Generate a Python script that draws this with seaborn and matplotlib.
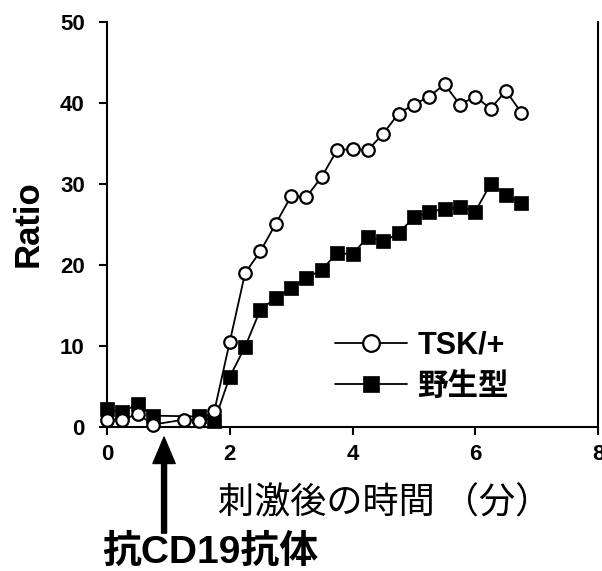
import pandas as pd
import seaborn as sns
import matplotlib.pyplot as plt

# データ
tsk_time = [0, 0.25, 0.5, 0.75, 1.25, 1.5, 1.75, 2.0, 2.25, 2.5, 2.75, 3.0, 3.25, 3.5,
            3.75, 4.0, 4.25, 4.5, 4.75, 5.0, 5.25, 5.5, 5.75, 6.0, 6.25, 6.5, 6.75]
tsk_ratio = [0.9, 0.9, 1.6, 0.3, 0.9, 0.8, 2.0, 10.5, 19.0, 21.7, 25.1, 28.5, 28.4, 30.9,
             34.2, 34.3, 34.2, 36.2, 38.7, 39.8, 40.8, 42.3, 39.8, 40.8, 39.3, 41.5, 38.8]

wt_time = [0, 0.25, 0.5, 0.75, 1.5, 1.75, 2.0, 2.25, 2.5, 2.75, 3.0, 3.25, 3.5,
           3.75, 4.0, 4.25, 4.5, 4.75, 5.0, 5.25, 5.5, 5.75, 6.0, 6.25, 6.5, 6.75]
wt_ratio = [2.2, 1.8, 2.9, 1.4, 1.3, 0.7, 6.2, 9.9, 14.5, 15.9, 17.1, 18.4, 19.4,
            21.5, 21.3, 23.5, 22.9, 23.9, 25.9, 26.6, 26.9, 27.2, 26.6, 30.0, 28.7, 27.6]

x_ticks = [0, 2, 4, 6, 8]
y_ticks = [0, 10, 20, 30, 40, 50]
antibody_time = 0.93

df_tsk = pd.DataFrame({"time": tsk_time, "ratio": tsk_ratio})
df_wt = pd.DataFrame({"time": wt_time, "ratio": wt_ratio})

sns.set_style("ticks")
plt.rcParams["font.family"] = ["Liberation Sans", "Noto Sans CJK JP"]
plt.rcParams["text.color"] = "black"
plt.rcParams["axes.labelcolor"] = "black"
plt.rcParams["xtick.color"] = "black"
plt.rcParams["ytick.color"] = "black"
bold_fam = ["Liberation Sans", "Noto Sans CJK JP"]

fig = plt.figure(figsize=(6.02, 5.71), dpi=100)
ax = fig.add_axes([0.1777, 0.2522, 0.8157, 0.7093])

# 野生型（後ろ）
sns.lineplot(data=df_wt, x="time", y="ratio", ax=ax, color="black", linewidth=1.3,
             marker="s", markersize=10, markerfacecolor="black", markeredgecolor="black",
             markeredgewidth=0.5, label="野生型", clip_on=False, zorder=3)
# TSK/+（前）
sns.lineplot(data=df_tsk, x="time", y="ratio", ax=ax, color="black", linewidth=1.3,
             marker="o", markersize=9, markerfacecolor="white", markeredgecolor="black",
             markeredgewidth=1.6, label="TSK/+", clip_on=False, zorder=4)

ax.set_xlim(0, 8)
ax.set_ylim(0, 50)
ax.set_xticks(x_ticks)
ax.set_yticks(y_ticks)
ax.set_xticklabels([str(v) for v in x_ticks], fontsize=16, fontweight="bold")
ax.set_yticklabels([str(v) for v in y_ticks], fontsize=16, fontweight="bold")
ax.tick_params(axis="both", direction="out", length=6, width=1.5)
ax.tick_params(axis="x", pad=6)
ax.tick_params(axis="y", pad=10)

for side in ["left", "bottom", "right"]:
    ax.spines[side].set_linewidth(1.5)
    ax.spines[side].set_color("black")
ax.spines["top"].set_visible(False)

ax.set_ylabel("Ratio", fontsize=25, fontweight="bold", family=bold_fam)
ax.yaxis.set_label_coords(-0.126, 0.501)
ax.set_xlabel("刺激後の時間 （分）", fontsize=26, family=["Noto Sans CJK JP"])
ax.xaxis.set_label_coords(0.566, -0.145)

# 凡例
handles, labels = ax.get_legend_handles_labels()
leg = ax.legend(handles[::-1], labels[::-1], loc="upper left",
                bbox_to_anchor=(335 / 602, 1 - 331 / 571), bbox_transform=fig.transFigure,
                frameon=False, handlelength=2.35, handletextpad=0.35, labelspacing=0.35,
                borderpad=0, borderaxespad=0,
                prop={"family": bold_fam, "weight": "bold", "size": 22})
for h in leg.legend_handles:
    h.set_markersize(12)

# 抗体添加の矢印
ax.annotate("", xy=(antibody_time, -0.025), xycoords=("data", "axes fraction"),
            xytext=(antibody_time, -0.262), textcoords=("data", "axes fraction"),
            arrowprops=dict(facecolor="black", edgecolor="black", width=3.6,
                            headwidth=16, headlength=19, shrink=0))
fig.text(210 / 602, 1 - 553 / 571, "抗CD19抗体", ha="center", va="center",
         fontsize=28, fontweight="bold", family=bold_fam)

fig.savefig("out.png", dpi=100)
